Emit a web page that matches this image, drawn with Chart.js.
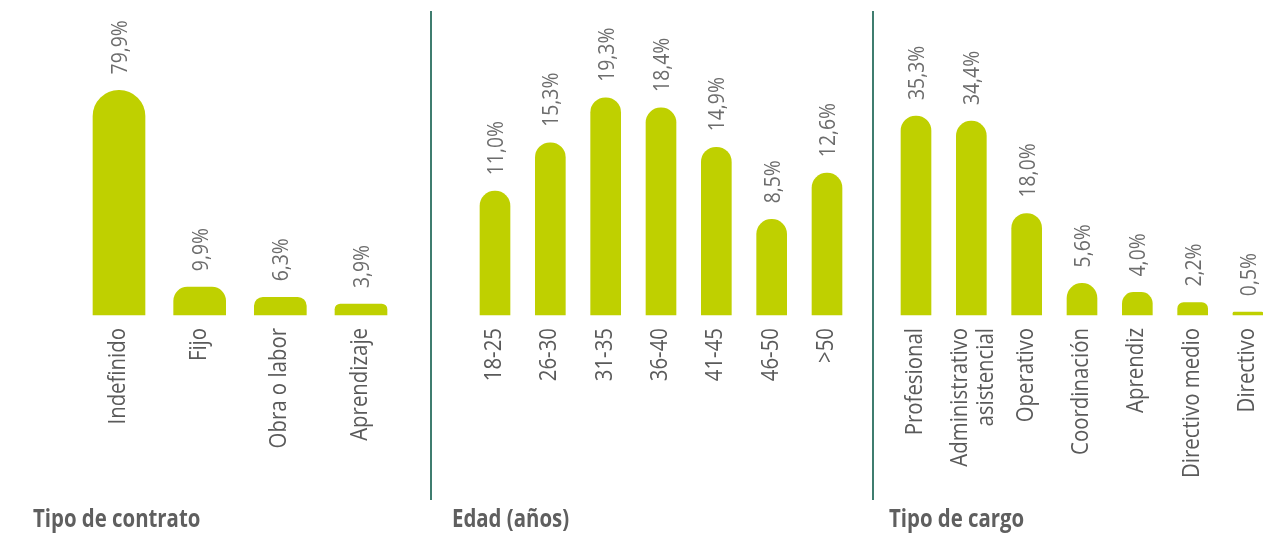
<!DOCTYPE html>
<html lang="es">
<head>
<meta charset="utf-8">
<title>Distribución de colaboradores</title>
<script src="https://cdn.jsdelivr.net/npm/chart.js@4.4.1/dist/chart.umd.min.js"></script>
<style>
    html, body { margin: 0; padding: 0; background: #fff; }
    body { width: 1263px; height: 533px; position: relative; overflow: hidden; font-family: 'Open Sans', sans-serif; }
    .panel { position: absolute; top: 0; height: 533px; }
    .divider { position: absolute; top: 11px; height: 489px; width: 2px; background: #3f7d6f; }
    .panel-title {
        position: absolute; top: 502px; font-size: 25px; line-height: 30px; font-weight: 700;
        color: #5f5f5f; white-space: nowrap; transform: scaleX(0.815); transform-origin: left top;
    }
</style>
</head>
<body>
    <div class="panel" style="left:0;width:431px"><canvas id="contratoChart"></canvas></div>
    <div class="panel" style="left:431px;width:442px"><canvas id="edadChart"></canvas></div>
    <div class="panel" style="left:873px;width:390px"><canvas id="cargoChart"></canvas></div>

    <div class="divider" style="left:430px"></div>
    <div class="divider" style="left:872px"></div>

    <div class="panel-title" style="left:33px">Tipo de contrato</div>
    <div class="panel-title" style="left:452px">Edad (años)</div>
    <div class="panel-title" style="left:889px">Tipo de cargo</div>

<script>
// --- data ---
const contratoLabels = ['Indefinido', 'Fijo', 'Obra o labor', 'Aprendizaje'];
const contratoValues = [79.9, 9.9, 6.3, 3.9];

const edadLabels = ['18-25', '26-30', '31-35', '36-40', '41-45', '46-50', '>50'];
const edadValues = [11.0, 15.3, 19.3, 18.4, 14.9, 8.5, 12.6];

const cargoLabels = ['Profesional', ['Administrativo', 'asistencial'], 'Operativo', 'Coordinación', 'Aprendiz', 'Directivo medio', 'Directivo'];
const cargoValues = [35.3, 34.4, 18.0, 5.6, 4.0, 2.2, 0.5];

const barColor = '#bfd000';

const formatPct = v => v.toFixed(1).replace('.', ',') + '%';

// the source font is a narrow one, so text is squeezed along its own direction
function drawUpText(ctx, text, x, y, align, squeeze) {
    ctx.save();
    ctx.translate(x, y);
    ctx.rotate(-Math.PI / 2);
    ctx.scale(squeeze, 1);
    ctx.textAlign = align;
    ctx.textBaseline = 'alphabetic';
    ctx.fillText(text, 0, 0);
    ctx.restore();
}

// value labels above bars + category labels under the axis
const rotatedText = {
    id: 'rotatedText',
    afterDatasetsDraw(chart) {
        const ctx = chart.ctx;
        const meta = chart.getDatasetMeta(0);
        const values = chart.data.datasets[0].data;
        const xScale = chart.scales.x;

        ctx.save();
        ctx.fillStyle = '#6c6c6c';
        ctx.font = '22px "Open Sans", sans-serif';
        meta.data.forEach((bar, i) => {
            drawUpText(ctx, formatPct(values[i]), bar.x + 8, bar.y - 16, 'left', 0.88);
        });

        ctx.fillStyle = '#5a5a5a';
        ctx.font = '24px "Open Sans", sans-serif';
        const top = xScale.top + 13;
        chart.data.labels.forEach((label, i) => {
            const lines = Array.isArray(label) ? label : [label];
            const x = xScale.getPixelForValue(i);
            lines.forEach((line, j) => {
                drawUpText(ctx, line, x + 6 + j * 26 - (lines.length - 1) * 10, top, 'right', 0.85);
            });
        });
        ctx.restore();
    }
};

function makeChart(id, labels, values, opts) {
    const ctx = document.getElementById(id).getContext('2d');
    return new Chart(ctx, {
        type: 'bar',
        data: {
            labels: labels,
            datasets: [{
                data: values,
                backgroundColor: barColor,
                barThickness: opts.barWidth,
                borderSkipped: 'start',
                borderRadius: { topLeft: opts.barWidth / 2, topRight: opts.barWidth / 2 },
                clip: false
            }]
        },
        options: {
            responsive: true,
            maintainAspectRatio: false,
            animation: false,
            events: [],
            layout: { padding: { top: 10, bottom: 0, left: opts.left, right: opts.right } },
            plugins: { legend: { display: false }, tooltip: { enabled: false } },
            scales: {
                x: {
                    offset: false,
                    grid: { display: false, drawTicks: false },
                    border: { display: false },
                    ticks: { display: false },
                    afterFit: scale => { scale.height = 218; }
                },
                y: { display: false, min: 0, max: opts.max }
            }
        },
        plugins: [rotatedText]
    });
}

document.addEventListener('DOMContentLoaded', () => {
    makeChart('contratoChart', contratoLabels, contratoValues, { barWidth: 52, left: 119, right: 70, max: 108.5 });
    makeChart('edadChart', edadLabels, edadValues, { barWidth: 30, left: 64, right: 46, max: 27.1 });
    makeChart('cargoChart', cargoLabels, cargoValues, { barWidth: 30, left: 43, right: 15, max: 54.1 });
});
</script>
</body>
</html>
